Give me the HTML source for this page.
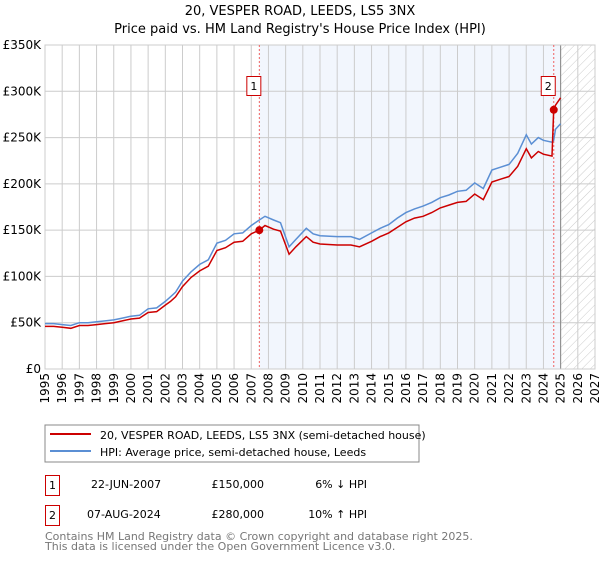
<!DOCTYPE html>
<html><head><meta charset="utf-8"><style>
body{margin:0;background:#fff;font-family:"DejaVu Sans","Liberation Sans",sans-serif;}
svg text{font-family:"DejaVu Sans","Liberation Sans",sans-serif;}
</style></head><body>
<svg id="chart" width="600" height="560" xmlns="http://www.w3.org/2000/svg">
<defs><pattern id="hatch" width="6" height="6" patternUnits="userSpaceOnUse" patternTransform="rotate(45)"><line x1="0" y1="0" x2="0" y2="6" stroke="#ccc" stroke-width="1"/></pattern></defs>
<text x="300" y="15" text-anchor="middle" font-size="13" fill="#000">20, VESPER ROAD, LEEDS, LS5 3NX</text>
<text x="300" y="33" text-anchor="middle" font-size="13" fill="#000">Price paid vs. HM Land Registry's House Price Index (HPI)</text>
<g id="plot"></g>
<rect x="45" y="425" width="374" height="37" fill="#fff" stroke="#888"/>
<line x1="50" y1="434" x2="91" y2="434" stroke="#cc0000" stroke-width="2"/>
<text x="100" y="439" font-size="11">20, VESPER ROAD, LEEDS, LS5 3NX (semi-detached house)</text>
<line x1="50" y1="451" x2="91" y2="451" stroke="#5b8fd4" stroke-width="2"/>
<text x="100" y="456" font-size="11">HPI: Average price, semi-detached house, Leeds</text>
<g font-size="11">
<rect x="45.5" y="475.5" width="14" height="20" fill="#fff" stroke="#cc0000"/><text x="52.5" y="489" text-anchor="middle">1</text>
<text x="91" y="488">22-JUN-2007</text><text x="264" y="488" text-anchor="end">£150,000</text><text x="367" y="488" text-anchor="end">6% ↓ HPI</text></g>
<g font-size="11">
<rect x="45.5" y="505.5" width="14" height="20" fill="#fff" stroke="#cc0000"/><text x="52.5" y="519" text-anchor="middle">2</text>
<text x="87" y="518">07-AUG-2024</text><text x="264" y="518" text-anchor="end">£280,000</text><text x="367" y="518" text-anchor="end">10% ↑ HPI</text></g>
<text x="45" y="540" font-size="11" fill="#777">Contains HM Land Registry data © Crown copyright and database right 2025.</text>
<text x="45" y="550" font-size="11" fill="#777">This data is licensed under the Open Government Licence v3.0.</text>
</svg>
<script>
const years=[1995,1995.5,1996,1996.5,1997,1997.5,1998,1998.5,1999,1999.5,2000,2000.5,2001,2001.5,2002,2002.3,2002.6,2003,2003.5,2004,2004.5,2005,2005.5,2006,2006.5,2007,2007.47,2007.8,2008.3,2008.7,2009.2,2009.6,2010.2,2010.6,2011,2012,2012.8,2013.3,2014,2014.5,2015,2015.5,2016,2016.5,2017,2017.5,2018,2018.5,2019,2019.5,2020,2020.5,2021,2021.5,2022,2022.5,2023,2023.3,2023.7,2024,2024.5,2024.6,2024.7,2025];
const hpiValues=[49,49,48,47,50,50,51,52,53,55,57,58,65,66,73,78,83,95,105,113,118,136,139,146,147,155,161,165,161,158,132,140,152,146,144,143,143,140,147,152,156,163,169,173,176,180,185,188,192,193,201,195,215,218,221,233,253,243,250,247,245,247,259,265];
const propertyValues=[46,46,45,44,47,47,48,49,50,52,54,55,61,62,69,73,78,89,99,106,111,128,131,137,138,146,150,155,151,149,124,132,143,137,135,134,134,132,138,143,147,153,159,163,165,169,174,177,180,181,189,183,202,205,208,219,238,228,235,232,230,280,285,293];
const saleYears=[2007.47,2024.6];
const saleValues=[150,280];
const saleLabels=['1','2'];
const yTicks=[0,50,100,150,200,250,300,350];
const yTickLabels=['£0','£50K','£100K','£150K','£200K','£250K','£300K','£350K'];
const xTicks=[1995,1996,1997,1998,1999,2000,2001,2002,2003,2004,2005,2006,2007,2008,2009,2010,2011,2012,2013,2014,2015,2016,2017,2018,2019,2020,2021,2022,2023,2024,2025,2026,2027];
const dataEnd=2025.0;

const L=45,R=595,T=45,B=369,NS='http://www.w3.org/2000/svg';
const xs=y=>L+(y-1995)/(2027-1995)*(R-L);
const ys=v=>B-v/350*(B-T);
const g=document.getElementById('plot');
function mk(t,a){const e=document.createElementNS(NS,t);for(const k in a)e.setAttribute(k,a[k]);g.appendChild(e);return e;}
let e;
e=mk('rect',{x:xs(saleYears[0]),y:T,width:xs(dataEnd)-xs(saleYears[0]),height:B-T,fill:'#f2f6fd'});


e=mk('rect',{x:xs(dataEnd),y:T,width:R-xs(dataEnd),height:B-T,fill:'url(#hatch)'});


xTicks.forEach(t=>{
  e=mk('line',{x1:xs(t),x2:xs(t),y1:T,y2:B,stroke:'#ccc','stroke-width':1});
  
  
  e=mk('text',{x:0,y:0,'font-size':12,'text-anchor':'end',transform:`translate(${xs(t)+4},${B+4}) rotate(-90)`});
  e.textContent=t;
  
  
});
yTicks.forEach((t,i)=>{
  e=mk('line',{x1:L,x2:R,y1:ys(t),y2:ys(t),stroke:'#ccc','stroke-width':1});
  
  
  e=mk('text',{x:L-4,y:ys(t)+4,'font-size':12,'text-anchor':'end'});
  e.textContent=yTickLabels[i];
  
  
});
e=mk('line',{x1:xs(dataEnd),x2:xs(dataEnd),y1:T,y2:B,stroke:'#888','stroke-width':1});


e=mk('rect',{x:L,y:T,width:R-L,height:B-T,fill:'none',stroke:'#ccc'});


saleYears.forEach((s,i)=>{
  e=mk('line',{x1:xs(s),x2:xs(s),y1:T,y2:B,stroke:'#f06060','stroke-width':1,'stroke-dasharray':'2,2'});
  
  
});
const pts=v=>years.map((y,i)=>xs(y).toFixed(1)+','+ys(v[i]).toFixed(1)).join(' ');
e=mk('polyline',{points:pts(hpiValues),fill:'none',stroke:'#5b8fd4','stroke-width':1.5});


e=mk('polyline',{points:pts(propertyValues),fill:'none',stroke:'#cc0000','stroke-width':1.5});


saleYears.forEach((s,i)=>{
  e=mk('circle',{cx:xs(s),cy:ys(saleValues[i]),r:4,fill:'#cc0000'});
  
  
  e=mk('rect',{x:xs(s)-12.5,y:76.5,width:14,height:19,fill:'#fff',stroke:'#cc0000'});
  
  
  e=mk('text',{x:xs(s)-5.5,y:90,'font-size':11,'text-anchor':'middle'});
  e.textContent=saleLabels[i];
  
  
});
</script>
</body></html>
